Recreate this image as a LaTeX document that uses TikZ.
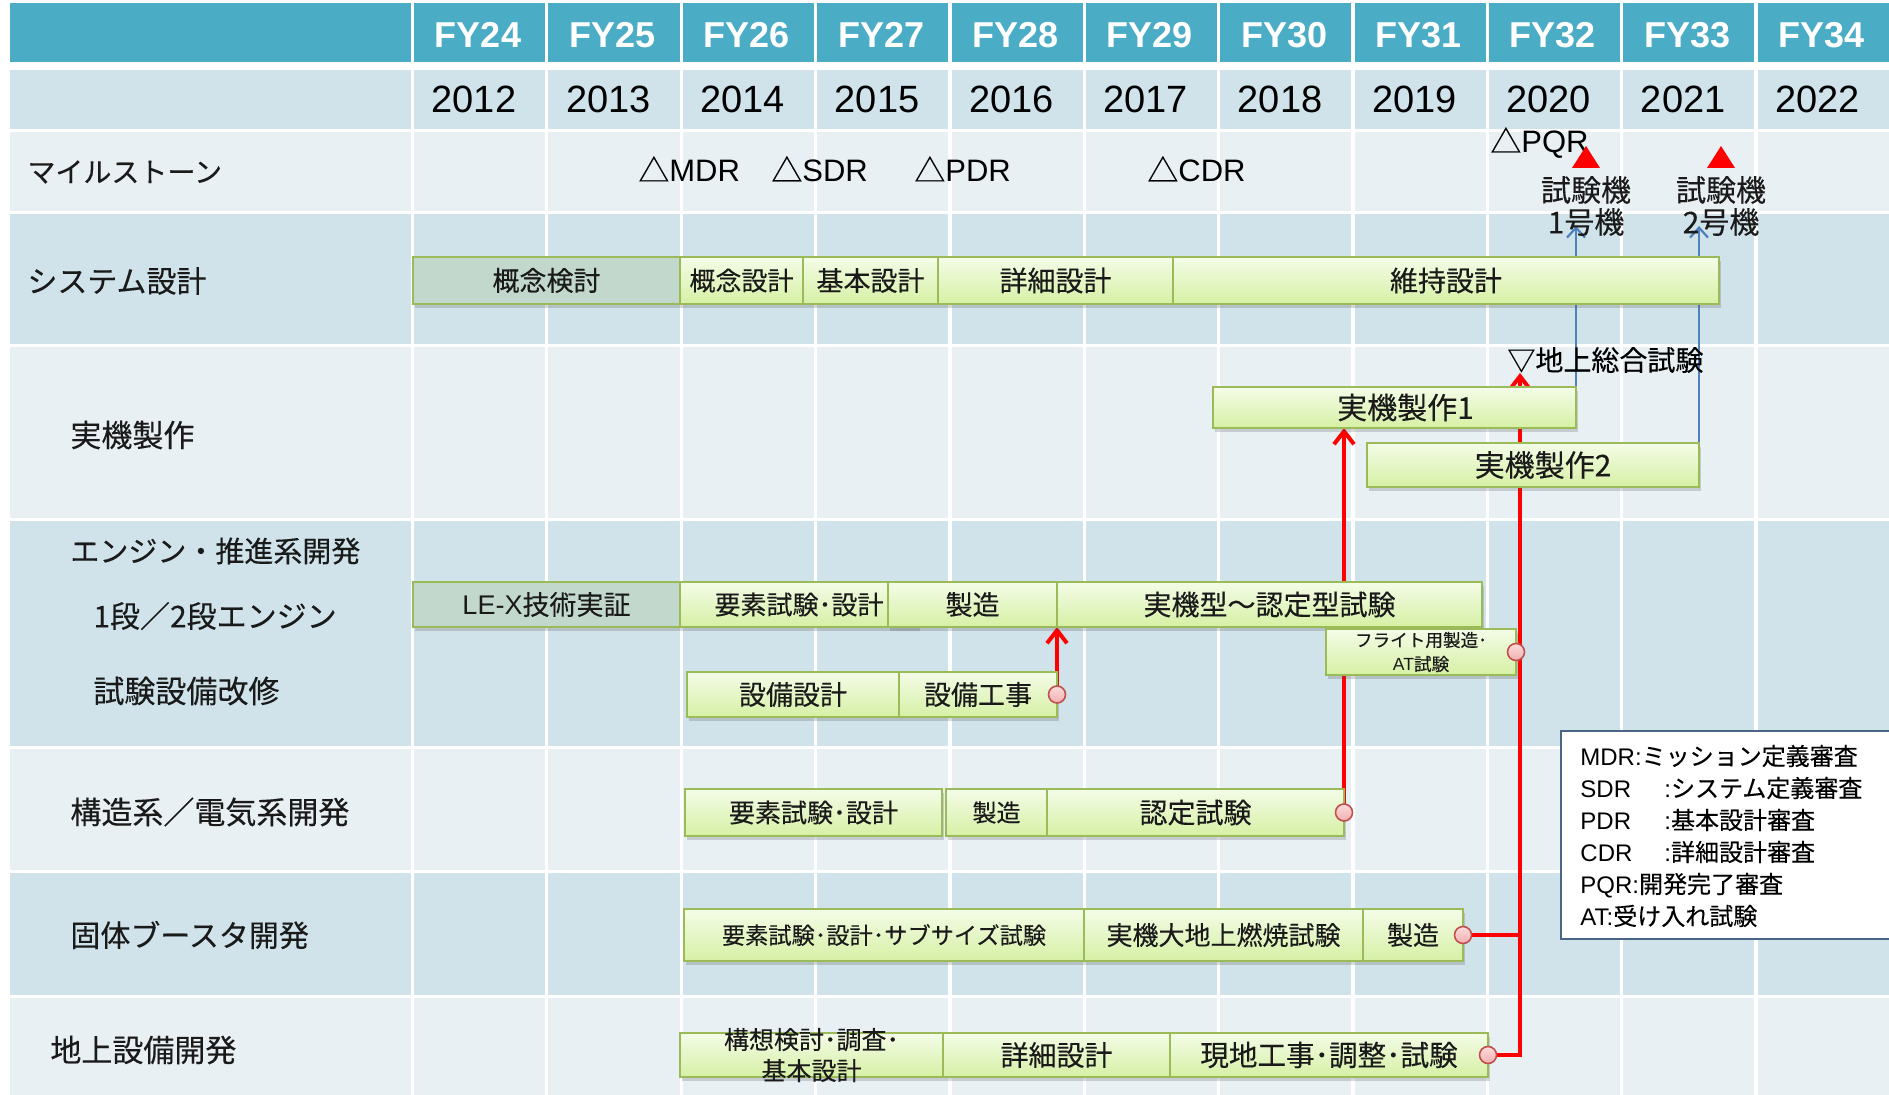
\documentclass[tikz,border=0pt]{standalone}
\usepackage{fontspec}
\setmainfont{Noto Sans CJK JP}[FakeBold=0.25]
\newfontfamily\ar{Liberation Sans}
\usetikzlibrary{arrows.meta,shadows}
\definecolor{hdr}{HTML}{4BACC6}
\definecolor{bandD}{HTML}{D0E3EA}
\definecolor{bandL}{HTML}{E8F0F4}
\definecolor{barline}{HTML}{9BBB59}
\definecolor{bartop}{HTML}{F4FCE8}
\definecolor{barbot}{HTML}{D6F0A4}
\definecolor{greybar}{HTML}{C3D8CC}
\definecolor{blueln}{HTML}{4F81BD}
\definecolor{legline}{HTML}{4A6687}
\definecolor{dotfill}{HTML}{F4AEB0}
\definecolor{dottop}{HTML}{FBDCDC}
\definecolor{dotline}{HTML}{C0504D}
\definecolor{ink}{HTML}{1A1A1A}
\pgfdeclarelayer{bg}
\pgfdeclarelayer{conn}
\pgfdeclarelayer{fg}
\pgfsetlayers{bg,conn,main,fg}
\newcommand\gbar[7][]{%
  \node[barbox,#1,minimum width={(#4-#3)*0.5pt},minimum height={(#6-#5)*0.5pt},anchor=north west] (#2) at (#3,#5) {#7};}
\newcommand\fs[1]{\fontsize{#1}{#1}\selectfont}
\begin{document}
\begin{tikzpicture}[x=0.5pt,y=-0.5pt,
  fy/.style={font=\ar\bfseries\fontsize{18}{20}\selectfont, text=white, inner sep=0pt},
  yr/.style={font=\ar\fontsize{19}{20}\selectfont, text=black, inner sep=0pt},
  lbl/.style={font=\fs{15.5}, text=ink, anchor=west, inner sep=0pt},
  ms/.style={font=\fs{15.5}, text=black, anchor=west, inner sep=0pt},
  barbox/.style={draw=barline, line width=1.1pt, top color=bartop, bottom color=barbot,
    inner sep=0pt, outer sep=0pt, text=ink, font=\fs{13.5},
    drop shadow={shadow xshift=0.8pt, shadow yshift=-1.8pt, opacity=0.22, fill=black!70}},
  grey/.style={top color=greybar, bottom color=greybar},
  btext/.style={inner sep=0pt, text=ink, align=center},
  redline/.style={draw=red, line width=2pt},
  redarrow/.style={redline, -{Straight Barb[length=6.5pt,width=10pt]}},
  bluearrow/.style={draw=blueln, line width=1.1pt, -{Straight Barb[length=5pt,width=9pt]}},
  dot/.style={circle, minimum size=8.5pt, inner sep=0pt, draw=dotline, line width=0.8pt,
    top color=dottop, bottom color=dotfill}
]
\useasboundingbox (0,0) rectangle (1889,1095);
\begin{pgfonlayer}{bg}
\fill[white] (0,0) rectangle (1889,1095);
\fill[hdr] (10,3) rectangle (1889,62);
\fill[bandD] (10,70) rectangle (1889,129);
\fill[bandL] (10,132) rectangle (1889,211);
\fill[bandD] (10,214) rectangle (1889,344);
\fill[bandL] (10,347) rectangle (1889,518);
\fill[bandD] (10,521) rectangle (1889,746);
\fill[bandL] (10,749) rectangle (1889,870);
\fill[bandD] (10,873) rectangle (1889,995);
\fill[bandL] (10,998) rectangle (1889,1095);
\foreach \k in {0,...,10} \draw[white, line width=1.6pt] ({412.5+134.35*\k},0) -- ({412.5+134.35*\k},1095);
\end{pgfonlayer}
% header texts
\foreach \f/\y [count=\k from 0] in {24/2012,25/2013,26/2014,27/2015,28/2016,29/2017,30/2018,31/2019,32/2020,33/2021,34/2022}{
  \node[fy] (fy\k) at ({478+134.35*\k},35) {FY\f};
  \node[yr] (yr\k) at ({474+134.35*\k},99) {\y};
}
% row labels
\node[lbl, font=\fs{14}] (l1) at (27,172) {マイルストーン};
\node[lbl, font=\fs{15}] (l2) at (27,281) {システム設計};
\node[lbl] (l3) at (70,435) {実機製作};
\node[lbl, font=\fs{14.5}] (l4) at (70,551) {エンジン・推進系開発};
\node[lbl, font=\fs{15}] (l5) at (93,616) {1段／2段エンジン};
\node[lbl] (l6) at (93,691) {試験設備改修};
\node[lbl] (l7) at (70,812) {構造系／電気系開発};
\node[lbl, font=\fs{15}] (l8) at (70,935) {固体ブースタ開発};
\node[lbl] (l9) at (50,1050) {地上設備開発};
% milestones
\node[ms] (mdr) at (638,169) {△{\ar MDR}};
\node[ms] (sdr) at (771,169) {△{\ar SDR}};
\node[ms] (pdr) at (914,169) {△{\ar PDR}};
\node[ms] (cdr) at (1147,169) {△{\ar CDR}};
\node[ms] (pqr) at (1490,143) {△{\ar PQR}};
\fill[red] (1572,168) -- (1600,168) -- (1586,146) -- cycle;
\fill[red] (1707,168) -- (1735,168) -- (1721,146) -- cycle;
\node[inner sep=0pt, align=center, text=ink, font=\fontsize{15}{16}\selectfont] (tk1) at (1586,206) {試験機\\1号機};
\node[inner sep=0pt, align=center, text=ink, font=\fontsize{15}{16}\selectfont] (tk2) at (1721,206) {試験機\\2号機};
\node[ms, font=\fs{14}] (gs) at (1507,360) {▽地上総合試験};
\coordinate (gtip) at (1520,373);
\coordinate (t1) at (1576,226);
\coordinate (t2) at (1699,226);
% bars: system design
\gbar[grey]{c1}{413}{680}{257}{304}{概念検討}
\gbar[font=\fs{13}]{c2}{680}{803}{257}{304}{概念設計}
\gbar{c3}{803}{938}{257}{304}{基本設計}
\gbar[font=\fs{14}]{c4}{938}{1173}{257}{304}{詳細設計}
\gbar[font=\fs{14}]{c5}{1173}{1719}{257}{304}{維持設計}
% production
\gbar{j1}{1213}{1576}{387}{428}{}
\node[btext, font=\fs{15}] (j1t) at ([xshift=5.5pt]j1.center) {実機製作1};
\gbar{j2}{1367}{1699}{443}{487}{}
\node[btext, font=\fs{15}] (j2t) at ([xshift=5pt]j2.center) {実機製作2};
% engine
\gbar[grey]{e1}{413}{680}{582}{627}{{\ar LE-X}技術実証}
\gbar[font=\fs{13}]{e2}{680}{918}{582}{627}{要素試験･設計}
\gbar{e3}{888}{1057}{582}{627}{製造}
\gbar[font=\fs{14}]{e4}{1057}{1482}{582}{627}{実機型～認定型試験}
\gbar{e5}{1326}{1516}{629}{675}{}
\node[btext, font=\fontsize{8.8}{12}\selectfont] (e5t) at (e5.center) {フライト用製造･\\{\ar AT}試験};
\gbar{e6}{687}{899}{672}{717}{設備設計}
\gbar{e7}{899}{1057}{672}{717}{設備工事}
% structure
\gbar[font=\fs{13}]{s1}{685}{942}{789}{836}{要素試験･設計}
\gbar[font=\fs{12}]{s2}{946}{1047}{789}{836}{製造}
\gbar[font=\fs{14}]{s3}{1047}{1344}{789}{836}{認定試験}
% solid booster
\gbar[font=\fs{11.6}]{k1}{684}{1084}{909}{961}{要素試験･設計･サブサイズ試験}
\gbar[font=\fs{13}]{k2}{1084}{1363}{909}{961}{実機大地上燃焼試験}
\gbar[font=\fs{13}]{k3}{1363}{1463}{909}{961}{製造}
% ground
\gbar{g1}{680}{943}{1033}{1077}{}
\node[btext, font=\fontsize{12.5}{15.5}\selectfont] (g1t) at (g1.center) {構想検討･調査･\\基本設計};
\gbar[font=\fs{14}]{g2}{943}{1170}{1033}{1077}{詳細設計}
\gbar[font=\fs{14.3}]{g3}{1170}{1488}{1033}{1077}{現地工事･調整･試験}
% connectors
\begin{pgfonlayer}{conn}
\draw[bluearrow] (j1.east) -- (t1);
\draw[bluearrow] (j2.east) -- (t2);
\draw[redarrow] (e7.east) -- (e7.east |- e3.south);
\draw[redarrow] (s3.east) -- (s3.east |- j1.south);
\draw[redarrow] (g3.east) -| (gtip);
\draw[redline] (k3.east) -- (k3.east -| gtip);
\end{pgfonlayer}
\begin{pgfonlayer}{fg}
\node[dot] (d1) at (e7.east) {};
\node[dot] (d2) at (s3.east) {};
\node[dot] (d3) at (k3.east) {};
\node[dot] (d4) at (g3.east) {};
\node[dot] (d5) at (e5.east) {};
\end{pgfonlayer}
% legend
\node[draw=legline, line width=1pt, fill=white, anchor=north west, minimum width=172pt, minimum height=104pt, inner sep=0pt] (legbox) at (1560,730) {};
\node[anchor=west, align=left, inner sep=0pt, text=black, font=\fontsize{12}{16}\selectfont] (legtxt) at (1580,836) {%
{\ar MDR:}ミッション定義審査\\
\makebox[42pt][l]{\ar SDR}{\ar :}システム定義審査\\
\makebox[42pt][l]{\ar PDR}{\ar :}基本設計審査\\
\makebox[42pt][l]{\ar CDR}{\ar :}詳細設計審査\\
{\ar PQR:}開発完了審査\\
{\ar AT:}受け入れ試験};
\end{tikzpicture}
\end{document}
